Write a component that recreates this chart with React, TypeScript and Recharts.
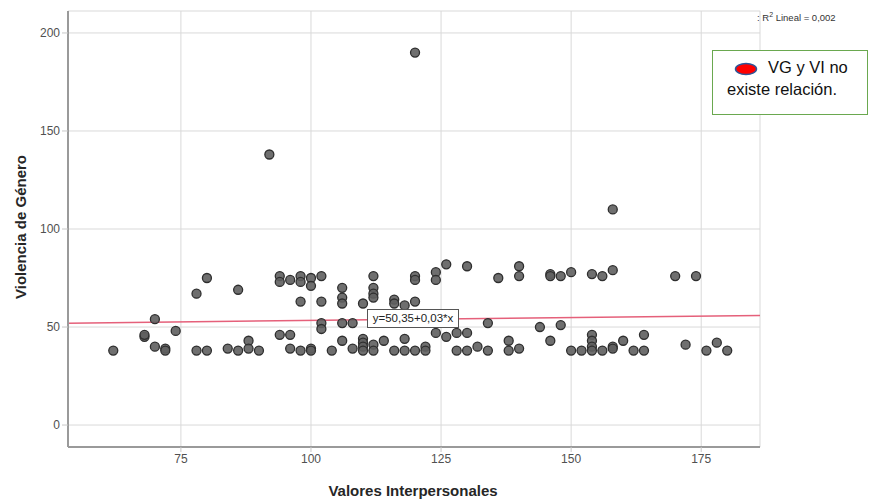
import React from "react";
import {
  ScatterChart,
  Scatter,
  XAxis,
  YAxis,
  CartesianGrid,
  ReferenceLine,
} from "recharts";

// Valores Interpersonales (x) vs Violencia de Género (y)
const valoresX = [
  62, 68, 68, 70, 70, 72, 72, 74, 78, 78, 80, 80, 84, 86, 86, 88, 88, 90, 92,
  94, 94, 94, 96, 96, 96, 98, 98, 98, 98, 100, 100, 100, 100, 102, 102, 102, 102,
  104, 106, 106, 106, 106, 106, 108, 108, 110, 110, 110, 110, 110,
  112, 112, 112, 112, 112, 112, 114, 116, 116, 116, 118, 118, 118,
  120, 120, 120, 120, 120, 122, 122, 124, 124, 124, 126, 126, 128, 128,
  130, 130, 130, 132, 134, 134, 136, 138, 138, 140, 140, 140, 144,
  146, 146, 146, 148, 148, 150, 150, 152, 154, 154, 154, 154, 154, 156, 156,
  158, 158, 158, 158, 160, 162, 164, 164, 170, 172, 174, 176, 178, 180,
];
const violenciaY = [
  38, 45, 46, 54, 40, 39, 38, 48, 67, 38, 75, 38, 39, 69, 38, 43, 39, 38, 138,
  76, 73, 46, 74, 46, 39, 76, 73, 63, 38, 75, 71, 39, 38, 76, 63, 52, 49,
  38, 70, 65, 62, 52, 43, 52, 39, 62, 44, 42, 40, 38,
  76, 70, 67, 65, 41, 38, 43, 64, 62, 38, 61, 44, 38,
  190, 76, 74, 63, 38, 40, 38, 78, 74, 47, 82, 45, 47, 38,
  81, 47, 38, 40, 52, 38, 75, 43, 38, 81, 76, 39, 50,
  77, 76, 43, 76, 51, 78, 38, 38, 77, 46, 43, 40, 38, 76, 38,
  110, 79, 40, 39, 43, 38, 46, 38, 76, 41, 76, 38, 42, 38,
];

const xTicks = [75, 100, 125, 150, 175];
const yTicks = [0, 50, 100, 150, 200];
const xDomain = [53.3, 186.3];
const yDomain = [-11.2, 211.2];

// recta de ajuste lineal
const intercept = 50.35;
const slope = 0.03;

const points = valoresX.map((x, i) => ({ x, y: violenciaY[i] }));

const FONT = "'Liberation Sans', Arial, sans-serif";

const Dot = (props: any) => (
  <circle
    cx={props.cx}
    cy={props.cy}
    r={4.5}
    fill="#5f5f5f"
    stroke="#2e2e2e"
    strokeWidth={1.3}
    fillOpacity={0.9}
  />
);

const YLabel = () => (
  <text
    x={20}
    y={227}
    transform="rotate(-90 20 227)"
    textAnchor="middle"
    dominantBaseline="central"
    fontFamily={FONT}
    fontSize={15}
    fontWeight="bold"
    fill="#262626"
  >
    Violencia de Género
  </text>
);

const XLabel = () => (
  <text
    x={413}
    y={490}
    textAnchor="middle"
    dominantBaseline="central"
    fontFamily={FONT}
    fontSize={15}
    fontWeight="bold"
    fill="#262626"
  >
    Valores Interpersonales
  </text>
);

export default function App() {
  return (
    <div
      style={{
        position: "absolute",
        left: 0,
        top: 0,
        width: 869,
        height: 500,
        background: "#fff",
        fontFamily: FONT,
      }}
    >
      <ScatterChart
        width={869}
        height={500}
        margin={{ top: 11, right: 109, bottom: 23, left: 8 }}
      >
        <CartesianGrid stroke="#d9d9d9" strokeWidth={1} />
        <XAxis
          type="number"
          dataKey="x"
          domain={xDomain}
          ticks={xTicks}
          allowDataOverflow
          height={30}
          tickSize={5}
          stroke="#9a9a9a"
          axisLine={{ stroke: "#9a9a9a", strokeWidth: 2 }}
          tickLine={{ stroke: "#c8c8c8" }}
          tick={{ fill: "#505050", fontSize: 12, fontFamily: FONT }}
          label={<XLabel />}
        />
        <YAxis
          type="number"
          dataKey="y"
          domain={yDomain}
          ticks={yTicks}
          allowDataOverflow
          width={60}
          tickSize={6}
          stroke="#9a9a9a"
          axisLine={{ stroke: "#9a9a9a", strokeWidth: 2 }}
          tickLine={{ stroke: "#c8c8c8" }}
          tick={{ fill: "#505050", fontSize: 12, fontFamily: FONT }}
          label={<YLabel />}
        />
        <ReferenceLine
          segment={[
            { x: xDomain[0], y: intercept + slope * xDomain[0] },
            { x: xDomain[1], y: intercept + slope * xDomain[1] },
          ]}
          stroke="#e5607a"
          strokeWidth={1.5}
          ifOverflow="visible"
        />
        <Scatter data={points} shape={<Dot />} isAnimationActive={false} />
      </ScatterChart>

      {/* etiqueta de la ecuación */}
      <div
        style={{
          position: "absolute",
          left: 367,
          top: 309,
          width: 92,
          height: 19,
          boxSizing: "border-box",
          border: "1px solid #555",
          background: "#fff",
          fontSize: 11.5,
          lineHeight: "17px",
          textAlign: "center",
          color: "#222",
        }}
      >
        y=50,35+0,03*x
      </div>

      {/* R cuadrado */}
      <div
        style={{
          position: "absolute",
          left: 757,
          top: 11,
          fontSize: 9.5,
          color: "#333",
          whiteSpace: "nowrap",
        }}
      >
        : R<sup style={{ fontSize: 7 }}>2</sup> Lineal = 0,002
      </div>

      {/* recuadro de conclusión */}
      <div
        style={{
          position: "absolute",
          left: 712,
          top: 50,
          width: 156,
          height: 65,
          boxSizing: "border-box",
          border: "1.5px solid #6aa84f",
          background: "#fff",
          color: "#111",
          fontSize: 16.5,
        }}
      >
        <svg
          width={24}
          height={14}
          style={{ position: "absolute", left: 21, top: 11 }}
        >
          <ellipse cx={12} cy={7} rx={10.5} ry={5.5} fill="#ff0000" stroke="#2f5597" strokeWidth={1.5} />
        </svg>
        <div style={{ position: "absolute", left: 55, top: 7, whiteSpace: "nowrap" }}>
          VG y VI no
        </div>
        <div style={{ position: "absolute", left: 14, top: 29, whiteSpace: "nowrap" }}>
          existe relación.
        </div>
      </div>
    </div>
  );
}
